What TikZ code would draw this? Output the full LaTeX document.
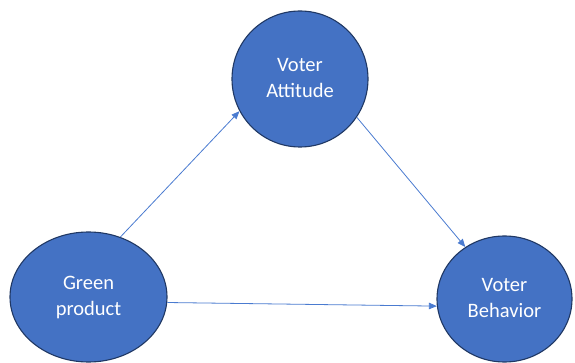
\documentclass[tikz,border=0pt]{standalone}
\usepackage{fontspec}
\setmainfont{Carlito}
\usetikzlibrary{shapes.geometric,arrows.meta}
\definecolor{fillblue}{HTML}{4472C4}
\definecolor{edgeblue}{HTML}{203864}
\definecolor{arrowblue}{HTML}{4A7BD0}
\newcommand\twolines[2]{\raisebox{5.5pt}{\begin{tabular}{@{}c@{}}#1\\#2\end{tabular}}}
\tikzset{
  bubble/.style={ellipse, draw=edgeblue, line width=1.1pt, fill=fillblue, inner sep=0pt,
    text=white, font=\fontsize{20.5}{26.5}\selectfont},
  conn/.style={draw=arrowblue, line width=0.8pt, -{Triangle[length=8pt,width=6.5pt]}}
}
\begin{document}
\begin{tikzpicture}[x=1pt,y=1pt]
\useasboundingbox (0,0) rectangle (575,-363);
\node[bubble, minimum width=136pt, minimum height=136pt] (att) at (300,-79) {\twolines{Voter}{Attitude}};
\node[bubble, minimum width=157pt, minimum height=130pt] (green) at (88.5,-297) {\twolines{Green}{product}};
\node[bubble, minimum width=135pt, minimum height=126pt] (beh) at (504.5,-299) {\twolines{Voter}{Behavior}};
\draw[conn] (green.62) -- (att.208);
\draw[conn] (att.-34) -- (beh.127);
\draw[conn] (green.-4) -- (beh.186);
\end{tikzpicture}
\end{document}
